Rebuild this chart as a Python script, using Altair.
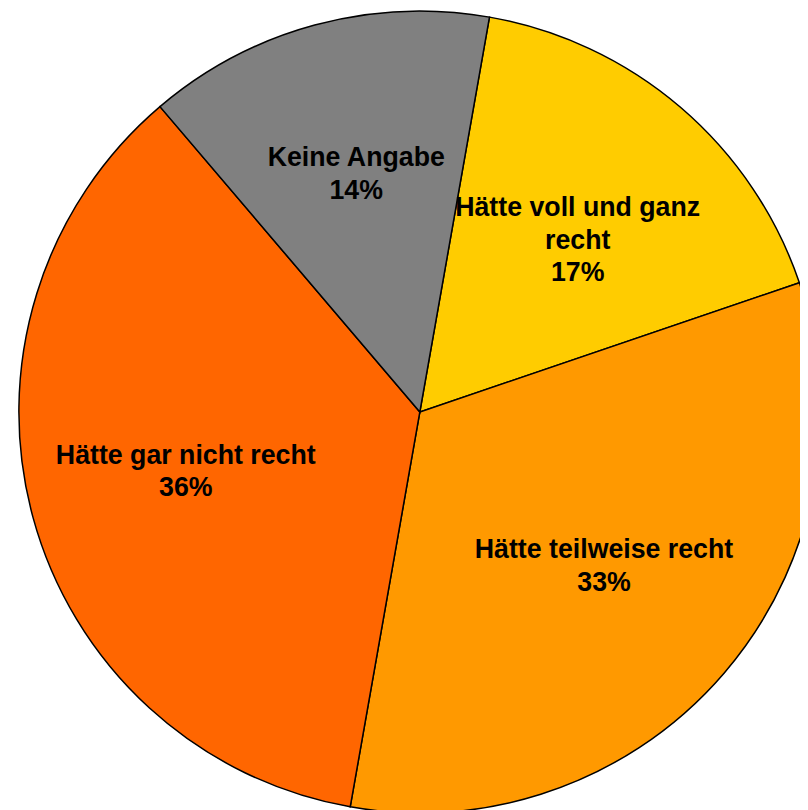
import math
import altair as alt
import pandas as pd

categories = ["Hätte voll und ganz\nrecht", "Hätte teilweise recht", "Hätte gar nicht recht", "Keine Angabe"]
values = [17, 33, 36, 14]
colors = ["#FFCC00", "#FF9900", "#FF6600", "#808080"]

df = pd.DataFrame({
    "cat": categories,
    "value": values,
    "order": list(range(len(values))),
})
df["label"] = [c + "\n" + str(v) + "%" for c, v in zip(categories, values)]

start = 10 * math.pi / 180
theta_scale = alt.Scale(range=[start, start + 2 * math.pi])

base = alt.Chart(df).encode(
    theta=alt.Theta("value:Q", stack=True, scale=theta_scale),
    order=alt.Order("order:Q"),
)

cx, cy = 416, 404

pie = base.mark_arc(radius=405, stroke="black", strokeWidth=1.5, x=cx, y=cy).encode(
    color=alt.Color("cat:N", scale=alt.Scale(domain=categories, range=colors), legend=None),
)

text = base.mark_text(
    radius=245, x=cx, y=cy, dy=-20, font="Liberation Sans", fontWeight="bold", fontSize=27,
    lineBreak="\n", lineHeight=33, color="black", align="center", baseline="middle",
).encode(text="label:N")

chart = (pie + text).properties(width=800, height=802, padding=0, autosize="none").configure_view(stroke=None)

chart.save("out.html", embed_options={"renderer": "svg", "actions": False})
